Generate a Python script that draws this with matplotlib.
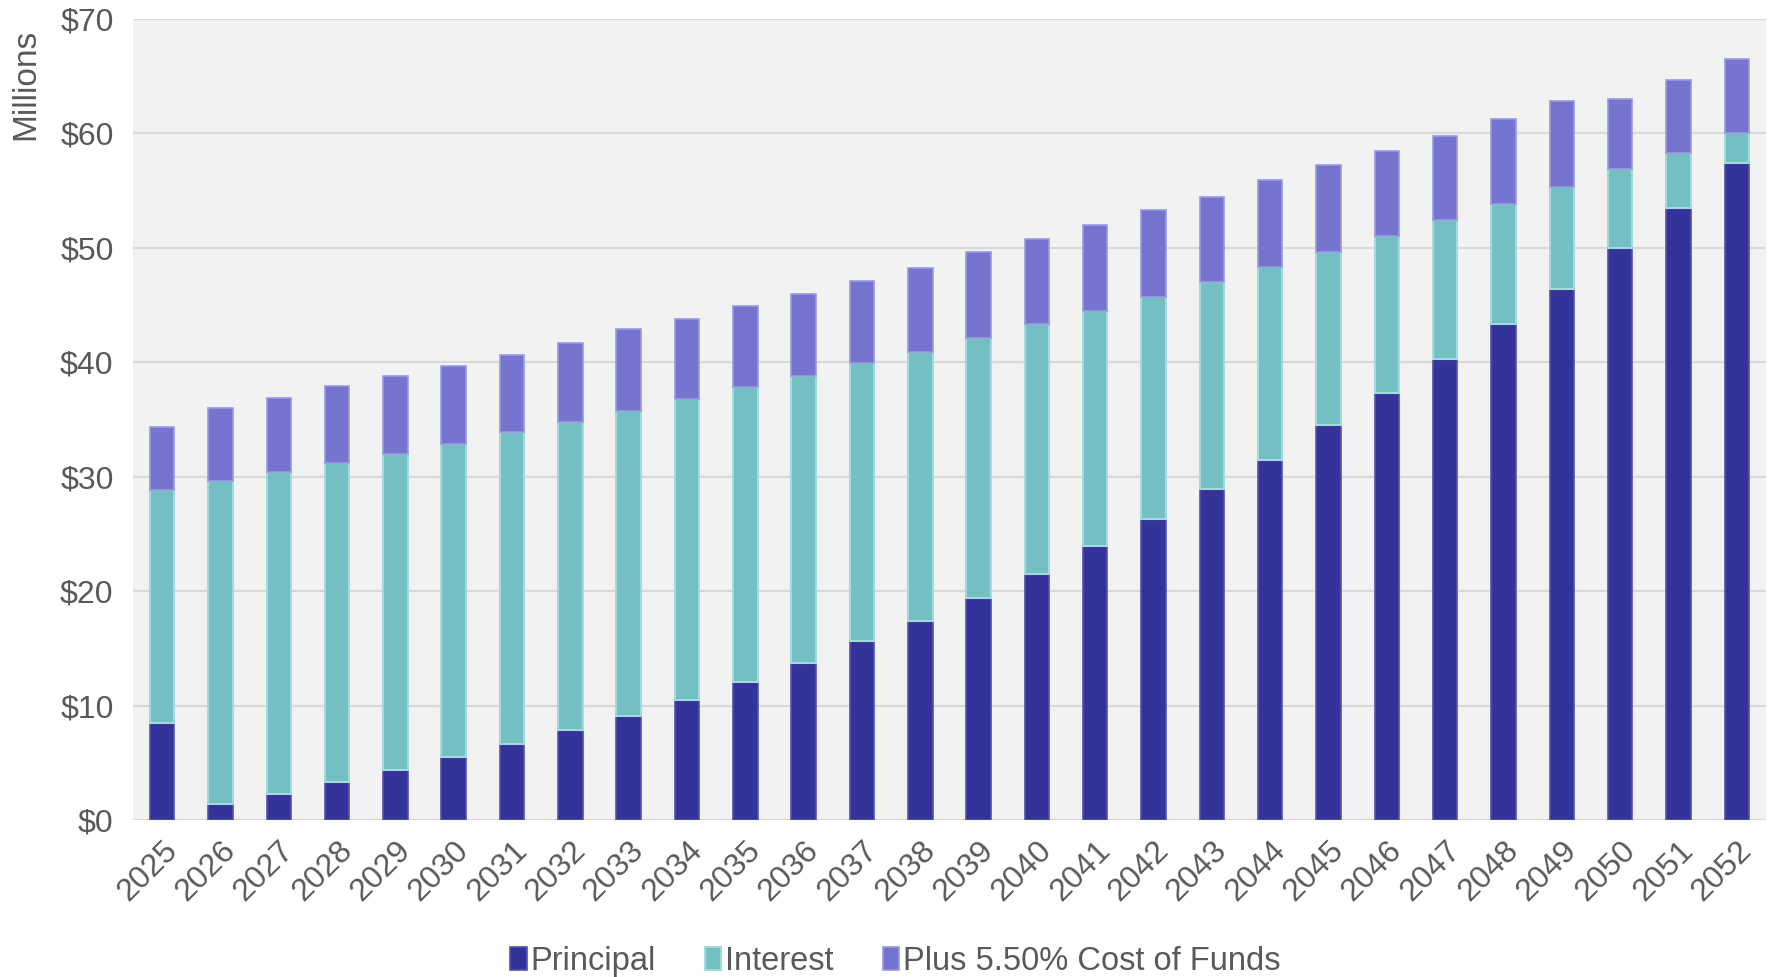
import numpy as np
import matplotlib.pyplot as plt

# values in $ millions
years = [str(y) for y in range(2025, 2053)]
principal = [8.45, 1.4, 2.3, 3.3, 4.4, 5.5, 6.6, 7.9, 9.1, 10.5, 12.1, 13.7, 15.6, 17.4,
             19.4, 21.5, 23.9, 26.3, 28.9, 31.5, 34.5, 37.3, 40.3, 43.3, 46.4, 50.0, 53.5, 57.4]
interest = [20.35, 28.2, 28.1, 27.9, 27.6, 27.4, 27.3, 26.9, 26.6, 26.3, 25.7, 25.1, 24.3, 23.5,
            22.7, 21.8, 20.6, 19.4, 18.1, 16.8, 15.1, 13.7, 12.1, 10.5, 8.9, 6.85, 4.8, 2.6]
cost_of_funds = [5.5, 6.4, 6.5, 6.7, 6.8, 6.8, 6.7, 6.9, 7.2, 7.0, 7.1, 7.2, 7.2, 7.3,
                 7.5, 7.5, 7.5, 7.6, 7.4, 7.6, 7.6, 7.5, 7.4, 7.5, 7.5, 6.15, 6.4, 6.5]
series_names = ['Principal', 'Interest', 'Plus 5.50% Cost of Funds']

TXT = '#595959'
plt.rcParams['font.family'] = ['Liberation Sans', 'DejaVu Sans']

fig = plt.figure(figsize=(17.73, 9.77), dpi=100)
ax = fig.add_axes([0.075, 0.1607, 0.921, 0.8199])
ax.set_facecolor('#F2F2F2')

x = np.arange(len(years))
w = 0.42
p = np.array(principal)
i = np.array(interest)
c = np.array(cost_of_funds)

ax.bar(x, p, w, color='#333399', edgecolor='#5252AD', linewidth=1.2, label=series_names[0], zorder=3)
ax.bar(x, i, w, bottom=p, color='#73BFC4', edgecolor='#A3DADC', linewidth=1.5, label=series_names[1], zorder=3)
ax.bar(x, c, w, bottom=p + i, color='#7575D0', edgecolor='#9A9AE0', linewidth=1.2, label=series_names[2], zorder=3)

ax.set_xlim(-0.5, len(years) - 0.5)
ax.set_ylim(0, 70)
ax.set_yticks(np.arange(0, 71, 10))
ax.set_yticklabels(['$%d' % v for v in range(0, 71, 10)])
ax.yaxis.grid(True, color='#D9D9D9', linewidth=1.6, zorder=0)
ax.set_axisbelow(True)
for s in ax.spines.values():
    s.set_visible(False)

ax.set_xticks(x)
ax.set_xticklabels(years, rotation=45, ha='right', rotation_mode='anchor')
ax.tick_params(axis='both', length=0, labelsize=23, labelcolor=TXT)
ax.tick_params(axis='y', pad=14)
ax.tick_params(axis='x', pad=11)

ax.set_ylabel('Millions', fontsize=24, color=TXT)
ax.yaxis.set_label_coords(-0.056, 0.918)

fig.legend(loc='lower center', bbox_to_anchor=(0.505, -0.03), ncol=3, frameon=False,
           fontsize=23.5, labelcolor=TXT, handlelength=0.5, handleheight=0.7,
           handletextpad=0.12, columnspacing=1.5)

fig.savefig('out.png', dpi=100)
